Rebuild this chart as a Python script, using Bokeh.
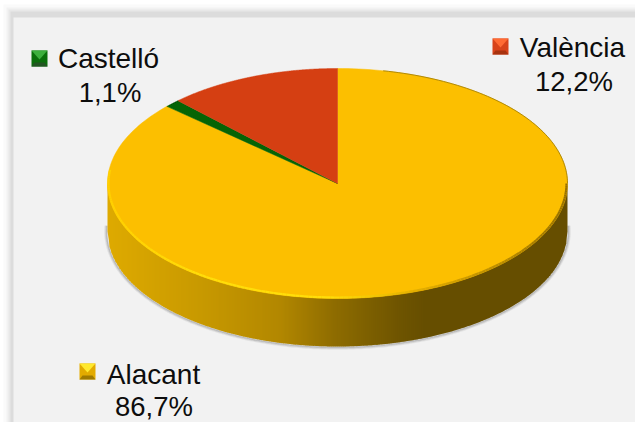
import numpy as np
from bokeh.plotting import figure
from bokeh.models import Range1d
from bokeh.embed import file_html
from bokeh.resources import INLINE
from bokeh.core.properties import value

categories = ["Alacant", "Castelló", "València"]
shares = [86.7, 1.1, 12.2]
share_labels = ["86,7%", "1,1%", "12,2%"]
top_colors = ["#FCBF00", "#056405", "#D53F12"]
bevel_top = ["#FFE92E", "#3DAF3D", "#FF6A33"]
bevel_side = ["#E3AB00", "#0B6F0B", "#D8431A"]
bevel_bottom = ["#A07A00", "#235523", "#A8330F"]
marker_xy = [(79, 363), (31, 50), (492, 38)]
name_xy = [(153, 374), (108, 58), (572, 47)]
pct_xy = [(153.5, 406), (109.5, 92), (573.5, 81)]

CX, CY, RX, RY, DEPTH = 337.0, 183.0, 230.0, 115.0, 48.0
W, H = 635, 422
FONT = "Liberation Sans"

p = figure(width=W, height=H, x_range=Range1d(0, W), y_range=Range1d(H, 0),
           output_backend="svg", toolbar_location=None, min_border=0,
           background_fill_color="#FFFFFF", border_fill_color="#FFFFFF",
           outline_line_color=None)
p.axis.visible = False
p.grid.visible = False

# panel shadow and panel
for inset, col in [(3, "#FAFAFA"), (6, "#F2F2F2"), (8, "#E8E8E8"), (10, "#DCDCDC")]:
    p.quad(left=inset, right=W + 5, top=inset + 1, bottom=H + 5, fill_color=col, line_color=None)
p.quad(left=13, right=W + 5, top=17, bottom=H + 5, fill_color="#F2F2F2", line_color=None)

def lerp_color(x, stops):
    xs = [s[0] for s in stops]
    c = [np.interp(x, xs, [s[1][i] for s in stops]) for i in range(3)]
    return "#%02X%02X%02X" % tuple(int(round(v)) for v in c)

# soft shadow under the side wall
phi = np.linspace(-np.pi / 2 - 0.05, np.pi / 2 + 0.05, 300)
for off, a in [(2.5, 0.10), (1.5, 0.18), (0.7, 0.25)]:
    sx = CX + (RX + off) * np.sin(phi)
    sy = CY + DEPTH + (RY + off) * np.cos(phi)
    p.line(sx, sy, line_color="#555555", line_alpha=a, line_width=1.5)

# side wall
side_stops = [(107, (222, 170, 0)), (200, (200, 153, 0)), (280, (178, 135, 0)),
              (337, (140, 107, 0)), (400, (110, 84, 0)), (425, (102, 78, 0)), (567, (102, 78, 0))]
xe = np.linspace(CX - RX, CX + RX, 231)
xs_side, ys_side, cols = [], [], []
for a, b in zip(xe[:-1], xe[1:]):
    b2 = min(b + 0.8, CX + RX)
    ua, ub = (a - CX) / RX, (b2 - CX) / RX
    ya = CY + RY * np.sqrt(max(0, 1 - ua ** 2))
    yb = CY + RY * np.sqrt(max(0, 1 - ub ** 2))
    xs_side.append([a, b2, b2, a])
    ys_side.append([ya - 1, yb - 1, yb + DEPTH, ya + DEPTH])
    cols.append(lerp_color((a + b) / 2, side_stops))
p.patches(xs_side, ys_side, fill_color=cols, line_color=None)

# top face wedges, clockwise from twelve o'clock
ends = np.cumsum(shares) / np.sum(shares) * 2 * np.pi
starts = np.concatenate([[0], ends[:-1]])
wx, wy = [], []
for s, e in zip(starts, ends):
    t = np.linspace(s, e, 240)
    wx.append(np.concatenate([[CX], CX + RX * np.sin(t)]))
    wy.append(np.concatenate([[CY], CY - RY * np.cos(t)]))
p.patches(wx, wy, fill_color=top_colors, line_color=top_colors, line_width=0.5)

# rim highlight along the front edge of the top face
rim_stops = [(107, (255, 208, 0)), (200, (255, 222, 10)), (330, (255, 222, 10)),
             (420, (225, 172, 0)), (567, (150, 112, 0))]
t = np.linspace(np.pi / 2, 3 * np.pi / 2 + 0.12, 170)
rx_ = CX + (RX - 1.0) * np.sin(t)
ry_ = CY - (RY - 1.0) * np.cos(t)
p.segment(rx_[:-1], ry_[:-1], rx_[1:], ry_[1:], line_width=2.2,
          line_color=[lerp_color(v, rim_stops) for v in (rx_[:-1] + rx_[1:]) / 2])
# darker edge on the upper right
t = np.linspace(0.2, np.pi / 2, 60)
p.line(CX + RX * np.sin(t), CY - RY * np.cos(t), line_color="#A88200", line_width=0.9)

# bevelled legend keys
S = 16.0
for (mx, my), ct, cs, cb in zip(marker_xy, bevel_top, bevel_side, bevel_bottom):
    l, r, tp, bt = mx, mx + S, my, my + S
    ax, ay = mx + S / 2, my + S * 0.56
    p.quad(left=l, right=r, top=tp, bottom=bt, fill_color=cs, line_color=None)
    p.patch([l, r, ax], [tp, tp, ay], fill_color=ct, line_color=None)
    p.patch([l, r, r - 3, l + 3], [bt, bt, bt - 4, bt - 4], fill_color=cb, line_color=None)

# labels
for cat, lab, (nx, ny), (tx, ty) in zip(categories, share_labels, name_xy, pct_xy):
    p.text([nx], [ny], text=[cat], text_font=value(FONT), text_font_size="28px",
           text_color="#0D0D0D", text_align="center", text_baseline="middle")
    p.text([tx], [ty], text=[lab], text_font=value(FONT), text_font_size="27.5px",
           text_color="#0D0D0D", text_align="center", text_baseline="middle")

open("out.html", "w").write(file_html(p, INLINE))
